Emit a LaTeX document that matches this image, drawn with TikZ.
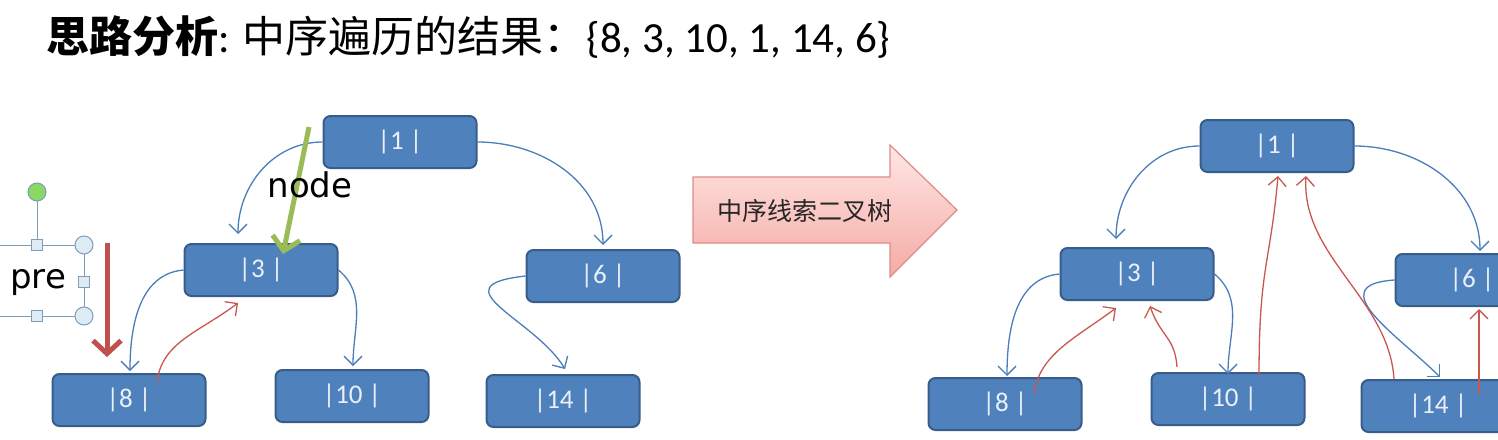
\documentclass[tikz,border=0pt]{standalone}
\usepackage{fontspec}
\setmainfont{Carlito}
\newfontfamily\cjk{Noto Sans CJK SC}
\newfontfamily\dejavu{DejaVu Sans}
\usetikzlibrary{positioning}
\usetikzlibrary{arrows.meta}
\definecolor{boxfill}{HTML}{4F81BD}
\definecolor{boxline}{HTML}{385D8A}
\definecolor{linkblue}{HTML}{4A7EBB}
\definecolor{threadred}{HTML}{C8584F}
\definecolor{ptrred}{HTML}{C0504D}
\definecolor{ptrgreen}{HTML}{9BBB59}
\definecolor{selline}{HTML}{7F9DB9}
\definecolor{selfill}{HTML}{DDEBF5}
\definecolor{pinktop}{HTML}{FFE6E4}
\definecolor{pinkbot}{HTML}{F5AAA5}
\definecolor{pinkline}{HTML}{DC8C87}
\tikzset{
    treenode/.style = {rectangle, rounded corners=7pt, line width=2pt, draw=boxline, fill=boxfill, minimum width=153pt, minimum height=52pt, inner sep=0pt, font=\fontsize{27}{30}\selectfont, text=white!88!boxfill},
    edgeb/.style = {-{Straight Barb[length=9pt,width=18pt]}, line width=1.3pt, linkblue}, % child link
    edger/.style = {-{Straight Barb[length=9pt,width=18pt]}, line width=1.3pt, threadred}, % thread
    edgeg/.style = {-{Straight Barb[length=13pt,width=28pt]}, line width=5pt, ptrgreen}, % node
    edgep/.style = {-{Straight Barb[length=13pt,width=28pt]}, line width=5pt, ptrred}, % pre
    selbox/.style = {draw=selline, fill=selfill, line width=1pt},
    labeltext/.style = {font=\dejavu\fontsize{34}{37}\selectfont, text=black, inner sep=0pt}
}
\begin{document}
\begin{tikzpicture}[x=1pt,y=1pt]
\useasboundingbox (0,0) rectangle (1498,-439);
\clip (0,0) rectangle (1498,-439);

\node[anchor=west, inner sep=0pt, font=\fontsize{43}{47}\selectfont] (title) at (46,-37) {{\cjk\bfseries 思路分析}: {\cjk 中序遍历的结果：}\{8, 3, 10, 1, 14, 6\}};

% left tree
\node[treenode] at (400,-142) (l1) {|1 |};
\node[treenode] at (261,-270) (l3) {|3 |};
\node[treenode] at (129,-400) (l8) {|8 |};
\node[treenode] at (352,-396) (l10) {|10 |};
\node[treenode] at (603,-276) (l6) {|6 |};
\node[treenode] at (563,-401) (l14) {|14 |};

\draw[edgeb] (l1.west) to[out=180,in=90] ([xshift=-23pt,yshift=9pt]l3.north);
\draw[edgeb] (l3.west) to[out=185,in=90] ([xshift=1pt,yshift=2pt]l8.north);
\draw[edgeb] (l3.east) to[out=-40,in=90] ([xshift=1pt,yshift=3pt]l10.north);
\draw[edgeb] (l1.east) to[out=0,in=90] ([yshift=4pt]l6.north);
\draw[edgeb] (l6.west) .. controls +(-90,-10) and +(-30,50) .. ([xshift=2pt,yshift=5pt]l14.north);
\draw[edger] ([xshift=28pt,yshift=-9pt]l8.north) .. controls +(5,40) and +(-40,-30) .. ([xshift=-23pt,yshift=-6pt]l3.south);

% pointers
\coordinate (gtail) at (309,-127);
\coordinate (ptail) at (107,-243);
\coordinate (phead) at (107,-357);
\draw[edgeg] (gtail) -- ([xshift=22pt,yshift=-11pt]l3.north);
\node[labeltext] at (310,-185) (nodelabel) {node};
\draw[edgep] (ptail) -- (phead);

% selected text box
\draw[selline, line width=1pt] (-5,-245) -- (84,-245) -- (84,-316) -- (-5,-316);
\draw[selline, line width=1pt] (37,-245) -- (37,-192);
\node[labeltext, anchor=west] at (10,-283) (prelabel) {pre};
\draw[selbox] (84,-245) circle (9);
\draw[selbox] (84,-316) circle (9);
\draw[selbox] (31.5,-250.5) rectangle (42.5,-239.5);
\draw[selbox] (31.5,-321.5) rectangle (42.5,-310.5);
\draw[selbox] (78.5,-287.5) rectangle (89.5,-276.5);
\draw[draw=selline, fill=ptrgreen!70!green!80!white, line width=1pt] (37,-192) circle (9);

% conversion arrow
\draw[pinkline, line width=1.2pt, top color=pinktop, bottom color=pinkbot] (693,-177) -- (890,-177) -- (890,-145) -- (957,-210) -- (890,-277) -- (890,-243) -- (693,-243) -- cycle;
\node[font=\cjk\fontsize{25}{28}\selectfont, text=black!85] at (805,-211) (conv) {中序线索二叉树};

% right tree
\node[treenode] at (1277,-146) (r1) {|1 |};
\node[treenode] at (1137,-274) (r3) {|3 |};
\node[treenode] at (1005,-404) (r8) {|8 |};
\node[treenode] at (1228,-399) (r10) {|10 |};
\node[treenode] at (1472,-280) (r6) {|6 |};
\node[treenode] at (1438,-406) (r14) {|14 |};

\draw[edgeb] (r1.west) to[out=180,in=90] ([xshift=-21pt,yshift=8pt]r3.north);
\draw[edgeb] (r1.east) to[out=0,in=90] ([xshift=8pt,yshift=2pt]r6.north);
\draw[edgeb] (r3.west) to[out=185,in=90] ([xshift=2pt,yshift=1pt]r8.north);
\draw[edgeb] (r3.east) to[out=-40,in=90] ([yshift=-2pt]r10.north);
\draw[edgeb] (r6.west) .. controls +(-75,-5) and +(-40,40) .. ([xshift=2pt,yshift=2pt]r14.north);

\draw[edger] ([xshift=29pt,yshift=-17pt]r8.north) .. controls +(5,40) and +(-40,-30) .. ([xshift=-21pt,yshift=-7pt]r3.south);
\draw[edger] ([xshift=-51pt,yshift=5pt]r10.north) .. controls +(-2,30) and +(10,-30) .. ([xshift=13pt,yshift=-5pt]r3.south);
\draw[edger] ([xshift=31pt,yshift=-4pt]r10.north) .. controls +(0,110) and +(-8,-90) .. ([xshift=1pt,yshift=-3pt]r1.south);
\draw[edger] ([xshift=-44pt]r14.north) .. controls +(-5,80) and +(-5,-80) .. ([xshift=29pt,yshift=-3pt]r1.south);
\draw[edger] ([xshift=41pt,yshift=-15pt]r14.north) -- ([xshift=7pt,yshift=-2pt]r6.south);
\end{tikzpicture}
\end{document}
